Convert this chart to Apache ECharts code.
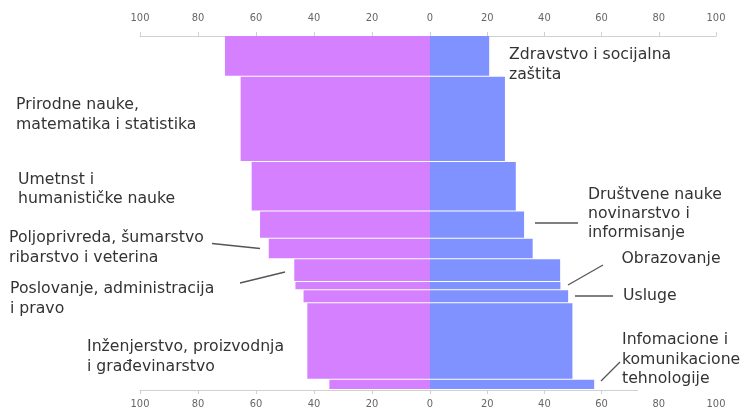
<!DOCTYPE html>
<html><head><meta charset="utf-8">
<script src="https://cdn.jsdelivr.net/npm/echarts@6/dist/echarts.min.js"></script>
<style>html,body{margin:0;padding:0;background:#fff}#c{width:744px;height:412px}</style>
</head><body><div id="c"></div>
<script>
// ---- data ----
const categories = [
  'Zdravstvo i socijalna\nzaštita',
  'Prirodne nauke,\nmatematika i statistika',
  'Umetnst i\nhumanističke nauke',
  'Društvene nauke\nnovinarstvo i\ninformisanje',
  'Poljoprivreda, šumarstvo\nribarstvo i veterina',
  'Poslovanje, administracija\ni pravo',
  'Obrazovanje',
  'Usluge',
  'Inženjerstvo, proizvodnja\ni građevinarstvo',
  'Infomacione i\nkomunikacione\ntehnologije'
];
const leftValues  = [70.7, 65.3, 61.5, 58.6, 55.6, 46.8, 46.4, 43.6, 42.3, 34.7];
const rightValues = [20.7, 26.2, 30.0, 32.9, 35.9, 45.5, 45.6, 48.3, 49.8, 57.4];
const shares      = [11.5, 24.1, 14.0, 7.7, 5.8, 6.4, 2.3, 3.7, 21.6, 2.9];
const axisMax = 100, axisStep = 20;

// ---- layout (annotation placement) ----
const labelLayout = [
  {x: 509, cy: 55,    lh: 20},
  {x: 16,  cy: 105,   lh: 20},
  {x: 18,  cy: 179.5, lh: 19},
  {x: 588, cy: 195,   lh: 19},
  {x: 9,   cy: 237.5, lh: 20},
  {x: 10,  cy: 288.5, lh: 20},
  {x: 621.5, cy: 258.5, lh: 20},
  {x: 623, cy: 296,   lh: 20},
  {x: 87,  cy: 347,   lh: 19.5},
  {x: 622, cy: 340,   lh: 19.5}
];
const leaders = [
  [535, 223, 578, 223],
  [212, 243.5, 260, 248.5],
  [240, 283, 285, 272],
  [568, 285, 603, 265],
  [575, 296, 613, 296],
  [601, 381, 620, 362]
];

const PURPLE = '#d580ff', BLUE = '#8092ff';

// build rows [start, end, value]
let acc = 0;
const leftRows = [], rightRows = [];
shares.forEach((s, i) => {
  leftRows.push([acc, acc + s, leftValues[i]]);
  rightRows.push([acc, acc + s, rightValues[i]]);
  acc += s;
});
const total = acc;

function makeRender(color) {
  return function (params, api) {
    const s = api.value(0), e = api.value(1), v = api.value(2);
    const p0 = api.coord([0, s]);
    const p1 = api.coord([v, e]);
    const x = Math.min(p0[0], p1[0]);
    const w = Math.abs(p1[0] - p0[0]);
    return {
      type: 'rect',
      shape: {x: x, y: p0[1], width: w, height: Math.max(1, p1[1] - p0[1] - 1)},
      style: {fill: color}
    };
  };
}

const tickFont = {color: '#666', fontSize: 11, fontFamily: '"Liberation Sans Narrow","DejaVu Sans Condensed",sans-serif'};
function xAx(gridIndex, position, inverse, hideMin) {
  return {
    type: 'value', gridIndex, position, inverse, min: 0, max: axisMax, interval: axisStep,
    axisLine: {show: true, lineStyle: {color: '#d0d0d0'}},
    axisTick: {show: true, length: 4, lineStyle: {color: '#d0d0d0'}},
    splitLine: {show: false},
    axisLabel: Object.assign({margin: position === 'top' ? 12 : 9, showMinLabel: !hideMin}, tickFont)
  };
}

const graphics = [];
// white patch behind the last label (covers the end of the bottom axis line as in the source)
graphics.push({type: 'rect', z: 9, shape: {x: 638, y: 386, width: 90, height: 10}, style: {fill: '#fff'}});
categories.forEach((t, i) => {
  const L = labelLayout[i];
  graphics.push({
    type: 'text', x: L.x, y: L.cy - L.lh / 2, z: 10,
    style: {text: t, font: '15.7px "DejaVu Sans"', fill: '#333', lineHeight: L.lh, verticalAlign: 'top', align: 'left'}
  });
});
leaders.forEach(l => graphics.push({
  type: 'line', z: 10, shape: {x1: l[0], y1: l[1], x2: l[2], y2: l[3]},
  style: {stroke: '#555', lineWidth: 1.3}
}));

const chart = echarts.init(document.getElementById('c'), null, {renderer: 'canvas'});
chart.setOption({
  animation: false,
  backgroundColor: '#fff',
  grid: [
    {left: 140, width: 290, top: 36, bottom: 22},
    {left: 430, width: 286, top: 36, bottom: 22}
  ],
  xAxis: [
    xAx(0, 'top', true, false),
    xAx(0, 'bottom', true, false),
    xAx(1, 'top', false, true),
    xAx(1, 'bottom', false, true)
  ],
  yAxis: [
    {type: 'value', gridIndex: 0, min: 0, max: total, inverse: true, show: false},
    {type: 'value', gridIndex: 1, min: 0, max: total, inverse: true, show: false}
  ],
  series: [
    {type: 'custom', xAxisIndex: 0, yAxisIndex: 0, renderItem: makeRender(PURPLE),
     encode: {x: 2, y: [0, 1]}, data: leftRows},
    {type: 'custom', xAxisIndex: 2, yAxisIndex: 1, renderItem: makeRender(BLUE),
     encode: {x: 2, y: [0, 1]}, data: rightRows}
  ],
  graphic: graphics
});
</script></body></html>
